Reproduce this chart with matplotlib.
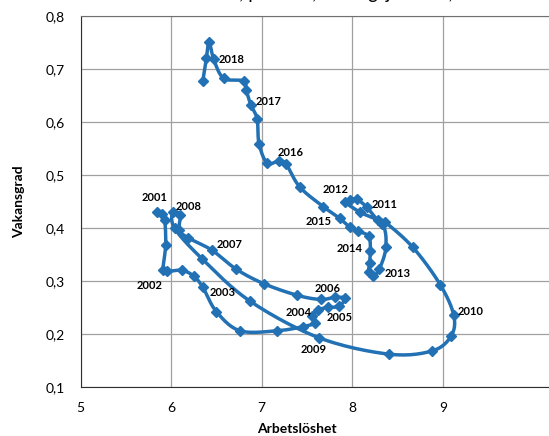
import numpy as np
import matplotlib
matplotlib.use("Agg")
import matplotlib.pyplot as plt
from matplotlib.ticker import FuncFormatter

plt.rcParams['font.family'] = ['Lato', 'DejaVu Sans']

# kvartal 2001 kv1 - 2018 kv4
arbetsloshet = [5.84, 5.90, 5.93, 5.94,
                5.91, 5.96, 6.12, 6.25,
                6.35, 6.50, 6.76, 7.17,
                7.46, 7.59, 7.56, 7.62,
                7.73, 7.85, 7.92, 7.81,
                7.65, 7.39, 7.02, 6.72,
                6.45, 6.19, 6.09, 6.10,
                6.02, 6.04, 6.34, 6.87,
                7.63, 8.40, 8.88, 9.09,
                9.12, 8.97, 8.67, 8.36,
                8.28, 8.16, 8.05, 7.98,
                7.92, 8.08, 8.33, 8.37,
                8.30, 8.23, 8.18, 8.19,
                8.20, 8.18, 8.06, 7.97,
                7.86, 7.68, 7.42, 7.27,
                7.19, 7.06, 6.97, 6.95,
                6.88, 6.83, 6.80, 6.58,
                6.47, 6.42, 6.39, 6.35]
vakansgrad = [0.430, 0.426, 0.415, 0.367,
              0.320, 0.318, 0.320, 0.309,
              0.288, 0.242, 0.206, 0.206,
              0.214, 0.221, 0.233, 0.245,
              0.250, 0.252, 0.267, 0.269,
              0.265, 0.273, 0.295, 0.322,
              0.358, 0.381, 0.396, 0.424,
              0.430, 0.399, 0.342, 0.262,
              0.193, 0.162, 0.168, 0.196,
              0.235, 0.293, 0.363, 0.411,
              0.415, 0.439, 0.454, 0.453,
              0.449, 0.430, 0.407, 0.363,
              0.323, 0.309, 0.316, 0.333,
              0.357, 0.384, 0.394, 0.402,
              0.418, 0.440, 0.477, 0.520,
              0.526, 0.522, 0.559, 0.605,
              0.632, 0.659, 0.677, 0.682,
              0.718, 0.751, 0.720, 0.677]
ar = list(range(2001, 2019))

# placering av årsetiketter (pixlar relativt kv1-punkten)
etikett_offset = [(-2, 14), (-13, -15), (20, -5), (-5, 14), (12, -10), (7, 11),
                  (18, 6), (16, 5), (-5, -12), (17, 4), (7, 15), (-9, 12),
                  (18, -5), (-21, 2), (-21, -3), (12, 9), (18, 3), (18, 0)]

BLA = '#2271B5'


def smooth(xs, ys, n=14):
    # Excel-liknande utjämnad linje (bezier genom punkterna)
    pts = np.column_stack([xs, ys])
    p = np.vstack([pts[0], pts, pts[-1]])
    out = []
    t = np.linspace(0, 1, n, endpoint=False)[:, None]
    for i in range(1, len(p) - 2):
        p0, p1, p2, p3 = p[i - 1], p[i], p[i + 1], p[i + 2]
        c1 = p1 + (p2 - p0) / 6
        c2 = p2 - (p3 - p1) / 6
        out.append((1 - t) ** 3 * p1 + 3 * (1 - t) ** 2 * t * c1 + 3 * (1 - t) * t ** 2 * c2 + t ** 3 * p2)
    out.append(pts[-1:])
    return np.vstack(out)


fig = plt.figure(figsize=(5.49, 4.36), dpi=100)
W, H = 549, 436
ax = fig.add_axes([80.5 / W, (H - 387) / H, 5.5 * 90.6 / W, (387 - 15.7) / H])

kurva = smooth(arbetsloshet, vakansgrad)
ax.plot(kurva[:, 0], kurva[:, 1], color=BLA, lw=2.5, solid_capstyle='round', zorder=3)
ax.plot(arbetsloshet, vakansgrad, ls='none', marker='D', ms=5.5, color=BLA, zorder=4)

for k, (year, off) in enumerate(zip(ar, etikett_offset)):
    ax.annotate(str(year), (arbetsloshet[4 * k], vakansgrad[4 * k]), xytext=off,
                textcoords='offset pixels', ha='center', va='center',
                fontsize=8, fontweight='bold', zorder=5)

ax.set_xlim(5, 10.5)
ax.set_ylim(0.1, 0.8)
ax.set_xticks([5, 6, 7, 8, 9])
ax.set_yticks(np.arange(1, 9) / 10)
ax.yaxis.set_major_formatter(FuncFormatter(lambda v, p: f"{v:.1f}".replace('.', ',')))
ax.tick_params(length=0, labelsize=10, pad=11)
ax.grid(True, color='#a0a0a0', lw=0.9)
ax.set_axisbelow(True)
for s in ['left', 'bottom']:
    ax.spines[s].set_color('#303030')
ax.spines['top'].set_color('#707070')
ax.spines['right'].set_visible(False)

ax.set_xlabel('Arbetslöshet', fontsize=10, fontweight='bold')
ax.xaxis.set_label_coords((297 - 80.5) / (5.5 * 90.6), -0.097)
ax.set_ylabel('Vakansgrad', fontsize=10, fontweight='bold')
ax.yaxis.set_label_coords(-0.111, 0.5)

# rubriken ligger nästan helt ovanför bildkanten (beskuren i originalet)
fig.text(0.525, 1 + 0.5 / H, 'Arbetslöshet och vakanser, procent, säsongsjusterat, 2001–2018',
         ha='center', va='baseline', fontsize=13.5)

fig.savefig('out.png', dpi=100)
